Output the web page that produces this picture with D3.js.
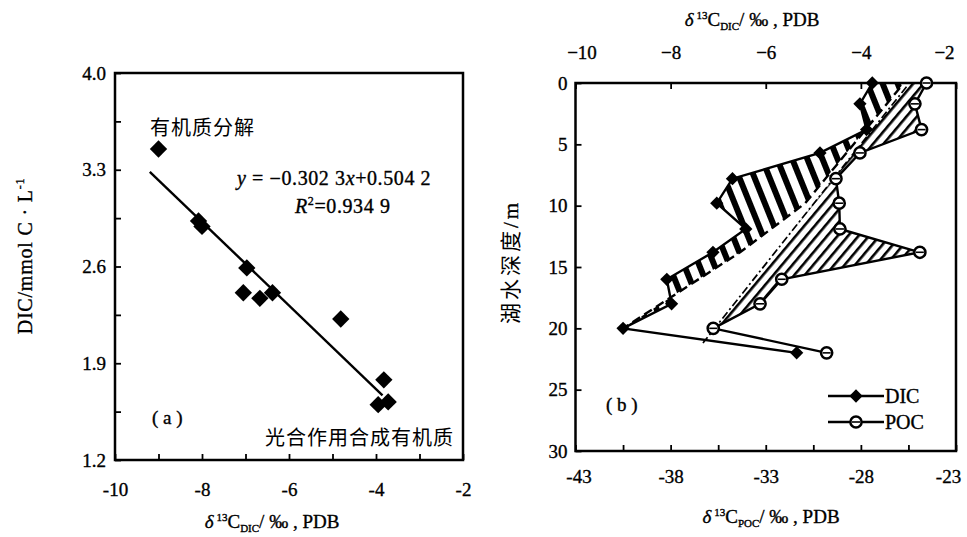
<!DOCTYPE html>
<html>
<head>
<meta charset="utf-8">
<script src="https://cdn.jsdelivr.net/npm/d3@7"></script>
<style>
  body { margin: 0; background: #fff; }
  svg { display: block; }
</style>
</head>
<body>
<svg id="chart" width="967" height="537"></svg>
<script>
// ---- (a) DIC concentration against δ13C of DIC ----
const scatterX = [-9.0, -8.08, -8.0, -6.97, -7.05, -6.67, -6.38, -4.81, -3.82, -3.95, -3.72];
const scatterY = [3.45, 2.93, 2.89, 2.59, 2.41, 2.37, 2.41, 2.22, 1.78, 1.60, 1.62];
const fitSlope = -0.3023;
const fitIntercept = 0.5042;
const fitRange = [-9.2, -3.85];
const xTicksA = d3.range(-10, -1, 1);
const yTicksA = d3.range(0, 9).map(i => +(1.2 + 0.35 * i).toFixed(2));
const yLabelsA = [1.2, 1.9, 2.6, 3.3, 4.0];

// ---- (b) depth profiles of δ13C-DIC and δ13C-POC ----
const depth = [0, 1.7, 3.8, 5.7, 7.8, 9.8, 11.9, 13.8, 16, 18, 20, 22];
const dic13 = [-3.76, -4.02, -3.88, -4.86, -6.70, -7.03, -6.42, -7.11, -8.08, -7.98, -9.0, -5.35];
const poc13 = [-24.55, -25.16, -24.81, -28.05, -29.31, -29.14, -29.1, -24.9, -32.16, -33.3, -35.76, -29.8];
// reference lines as [depth, value] vertices
const dicTrend = [[0.4, -3.18], [9.8, -5.17], [13.8, -6.54], [20, -9.0]];
const pocTrend = [[0.3, -25.6], [21.2, -36.3]];
const depthTicks = [0, 5, 10, 15, 20, 25, 30];
const topTicks = [-10, -8, -6, -4, -2];
const bottomTicks = d3.range(-43, -22.9, 2.5);

const svg = d3.select("#chart");
const serif = '"Liberation Serif","Times New Roman",serif';
const cjk = '"Noto Sans CJK SC","Noto Sans CJK JP",sans-serif';

function inkText(sel) {
  return sel.attr("fill", "#000").attr("stroke", "#000").attr("stroke-width", 0.35);
}

function styleAxis(g, size) {
  g.select(".domain").remove();
  g.selectAll(".tick line").attr("stroke", "#000").attr("stroke-width", 1.8);
  inkText(g.selectAll(".tick text"))
    .style("font-family", serif).style("font-size", (size || 19) + "px");
}

// nudge the outermost labels so they sit inside the frame's span
function nudgeEnds(g, first, last) {
  const texts = g.selectAll(".tick text").filter(function () { return this.textContent !== ""; });
  const n = texts.size();
  texts.attr("dx", (d, i) => (i === 0 ? first : i === n - 1 ? last : 0));
}

// isotope axis title: δ13C<sub>/‰,PDB
function isoTitle(g, x, y, sub) {
  const t = inkText(g.append("text")).attr("x", x).attr("y", y).attr("text-anchor", "middle")
    .style("font-family", serif).style("font-size", "19px");
  t.append("tspan").style("font-style", "italic").text("δ");
  t.append("tspan").attr("dx", 3).attr("dy", -7).style("font-size", "11px").text("13");
  t.append("tspan").attr("dy", 7).text("C");
  t.append("tspan").attr("dy", 4).style("font-size", "11px").text(sub);
  t.append("tspan").attr("dy", -4).text("/ ‰ , PDB");
}

// ================= panel (a) =================
const A = { l: 115, r: 463, t: 73, b: 460 };
const xA = d3.scaleLinear().domain([-10, -2]).range([A.l, A.r]);
const yA = d3.scaleLinear().domain([1.2, 4.0]).range([A.b, A.t]);
const gA = svg.append("g");

gA.append("g").attr("transform", `translate(0,${A.b})`)
  .call(d3.axisBottom(xA).tickValues(xTicksA).tickSize(-6).tickPadding(23)
    .tickFormat(d => (d % 2 === 0 ? String(d) : "")))
  .call(g => styleAxis(g));

gA.append("g").attr("transform", `translate(${A.l},0)`)
  .call(d3.axisLeft(yA).tickValues(yTicksA).tickSize(-6).tickPadding(9)
    .tickFormat(d => (yLabelsA.some(v => Math.abs(v - d) < 1e-6) ? d3.format(".1f")(d) : "")))
  .call(g => styleAxis(g));

gA.append("rect").attr("x", A.l).attr("y", A.t).attr("width", A.r - A.l).attr("height", A.b - A.t)
  .attr("fill", "none").attr("stroke", "#000").attr("stroke-width", 2.5);

// fitted line
gA.append("path")
  .datum(fitRange.map(x => [x, fitSlope * x + fitIntercept]))
  .attr("d", d3.line().x(d => xA(d[0])).y(d => yA(d[1])))
  .attr("fill", "none").attr("stroke", "#000").attr("stroke-width", 2.4);

// samples
const bigDiamond = d3.symbol(d3.symbolSquare, 150)();
gA.selectAll("path.pt").data(scatterX.map((x, i) => [x, scatterY[i]])).join("path")
  .attr("class", "pt").attr("d", bigDiamond)
  .attr("transform", d => `translate(${xA(d[0])},${yA(d[1])}) rotate(45)`)
  .attr("fill", "#000");

gA.append("text").attr("x", 150).attr("y", 135).attr("letter-spacing", 1)
  .style("font-family", cjk).style("font-size", "20px").text("有机质分解");
gA.append("text").attr("x", 454).attr("y", 445).attr("text-anchor", "end").attr("letter-spacing", 1)
  .style("font-family", cjk).style("font-size", "20px").text("光合作用合成有机质");
inkText(gA.append("text")).attr("x", 152).attr("y", 424)
  .style("font-family", serif).style("font-size", "19px").text("( a )");

const eq = inkText(gA.append("text")).attr("x", 237).attr("y", 185).attr("letter-spacing", 0.6)
  .style("font-family", serif).style("font-size", "20px");
eq.append("tspan").style("font-style", "italic").text("y");
eq.append("tspan").text(" = −0.302 3");
eq.append("tspan").style("font-style", "italic").text("x");
eq.append("tspan").text("+0.504 2");
const r2 = inkText(gA.append("text")).attr("x", 295).attr("y", 213).attr("letter-spacing", 0.6)
  .style("font-family", serif).style("font-size", "20px");
r2.append("tspan").style("font-style", "italic").text("R");
r2.append("tspan").attr("dy", -8).style("font-size", "12px").text("2");
r2.append("tspan").attr("dy", 8).text("=0.934 9");

// axis titles
const yt = inkText(gA.append("text")).attr("transform", "translate(32,256) rotate(-90)")
  .attr("text-anchor", "middle").attr("letter-spacing", 0.8)
  .style("font-family", serif).style("font-size", "20px");
yt.append("tspan").text("DIC/mmol C · L");
yt.append("tspan").attr("dy", -8).style("font-size", "12px").text("-1");
isoTitle(gA, 272, 528, "DIC");

// ================= panel (b) =================
const B = { l: 575.5, r: 956, t: 83, b: 451 };
const xTop = d3.scaleLinear().domain([-10, -2]).range([B.l, B.r]);
const xBot = d3.scaleLinear().domain([-43, -23]).range([B.l, B.r]);
const yB = d3.scaleLinear().domain([0, 30]).range([B.t, B.b]);
const gB = svg.append("g");

const defs = svg.append("defs");
defs.append("clipPath").attr("id", "clipB").append("rect")
  .attr("x", B.l).attr("y", B.t).attr("width", B.r - B.l).attr("height", B.b - B.t);
defs.append("pattern").attr("id", "barsHatch").attr("patternUnits", "userSpaceOnUse")
  .attr("width", 14).attr("height", 14).attr("patternTransform", "rotate(-22)")
  .append("rect").attr("x", 0).attr("y", 0).attr("width", 6).attr("height", 14).attr("fill", "#000");
defs.append("pattern").attr("id", "lineHatch").attr("patternUnits", "userSpaceOnUse")
  .attr("width", 8).attr("height", 8).attr("patternTransform", "rotate(40)")
  .append("rect").attr("x", 0).attr("y", 0).attr("width", 2.6).attr("height", 8).attr("fill", "#000");

// value of a polyline reference at a given depth
function trendAt(tr, d) {
  return d3.scaleLinear().domain(tr.map(p => p[0])).range(tr.map(p => p[1]))(d);
}

// shaded departures from the reference lines
const hatchG = gB.append("g").attr("clip-path", "url(#clipB)");
function bandRows(vals, tr) {
  const ds = Array.from(new Set(depth.concat(tr.map(p => p[0])))).filter(d => d <= 20).sort((a, b) => a - b);
  const prof = d3.scaleLinear().domain(depth).range(vals);
  return ds.map(d => ({ d, v: prof(d), t: trendAt(tr, d) }));
}
hatchG.append("path").datum(bandRows(dic13, dicTrend))
  .attr("d", d3.area().y(r => yB(r.d)).x0(r => xTop(r.t)).x1(r => xTop(r.v)))
  .attr("fill", "url(#barsHatch)");
hatchG.append("path").datum(bandRows(poc13, pocTrend))
  .attr("d", d3.area().y(r => yB(r.d)).x0(r => xBot(r.t)).x1(r => xBot(r.v)))
  .attr("fill", "url(#lineHatch)");

// reference lines
gB.append("path").datum(dicTrend)
  .attr("d", d3.line().x(p => xTop(p[1])).y(p => yB(p[0])))
  .attr("fill", "none").attr("stroke", "#000").attr("stroke-width", 2.4).attr("stroke-dasharray", "9,5");
gB.append("path").datum(pocTrend)
  .attr("d", d3.line().x(p => xBot(p[1])).y(p => yB(p[0])))
  .attr("fill", "none").attr("stroke", "#000").attr("stroke-width", 1.7).attr("stroke-dasharray", "8,3,2,3");

// axes
gB.append("g").attr("transform", `translate(0,${B.b})`)
  .call(d3.axisBottom(xBot).tickValues(bottomTicks).tickSize(-6).tickPadding(19)
    .tickFormat(d => ((d + 43) % 5 === 0 ? String(d) : "")))
  .call(g => styleAxis(g))
  .call(g => nudgeEnds(g, 3, -8));
gB.append("g").attr("transform", `translate(0,${B.t})`)
  .call(d3.axisTop(xTop).tickValues(topTicks).tickSize(-6).tickPadding(24))
  .call(g => styleAxis(g))
  .call(g => nudgeEnds(g, 6, -12));
gB.append("g").attr("transform", `translate(${B.l},0)`)
  .call(d3.axisLeft(yB).tickValues(depthTicks).tickSize(-6).tickPadding(8))
  .call(g => styleAxis(g));
gB.append("rect").attr("x", B.l).attr("y", B.t).attr("width", B.r - B.l).attr("height", B.b - B.t)
  .attr("fill", "none").attr("stroke", "#000").attr("stroke-width", 2.5);

// profiles
const dicPts = depth.map((d, i) => [xTop(dic13[i]), yB(d)]);
const pocPts = depth.map((d, i) => [xBot(poc13[i]), yB(d)]);
gB.append("path").datum(dicPts).attr("d", d3.line())
  .attr("fill", "none").attr("stroke", "#000").attr("stroke-width", 2.4);
gB.append("path").datum(pocPts).attr("d", d3.line())
  .attr("fill", "none").attr("stroke", "#000").attr("stroke-width", 2.4);

const smallDiamond = d3.symbol(d3.symbolSquare, 88)();
function diamondAt(g, x, y) {
  g.append("path").attr("d", smallDiamond)
    .attr("transform", `translate(${x},${y}) rotate(45)`).attr("fill", "#000");
}
function ringAt(g, x, y) {
  g.append("circle").attr("cx", x).attr("cy", y).attr("r", 5.6)
    .attr("fill", "#fff").attr("stroke", "#000").attr("stroke-width", 2.5);
  g.append("line").attr("x1", x - 4).attr("x2", x + 4).attr("y1", y).attr("y2", y)
    .attr("stroke", "#000").attr("stroke-width", 1.6);
}
dicPts.forEach(p => diamondAt(gB, p[0], p[1]));
pocPts.forEach(p => ringAt(gB, p[0], p[1]));

// legend
const lg = gB.append("g");
[["DIC", 396, diamondAt], ["POC", 422, ringAt]].forEach(([name, y, mark]) => {
  lg.append("line").attr("x1", 828).attr("x2", 884).attr("y1", y).attr("y2", y)
    .attr("stroke", "#000").attr("stroke-width", 2.4);
  mark(lg, 856, y);
  inkText(lg.append("text")).attr("x", 885).attr("y", y + 7)
    .style("font-family", serif).style("font-size", "20px").text(name);
});

inkText(gB.append("text")).attr("x", 606).attr("y", 411)
  .style("font-family", serif).style("font-size", "19px").text("( b )");

// axis titles
isoTitle(gB, 752, 26, "DIC");
isoTitle(gB, 771, 523, "POC");
const dt = gB.append("text").attr("transform", "translate(518,262) rotate(-90)")
  .attr("text-anchor", "middle").attr("letter-spacing", 3).style("font-size", "21px");
dt.append("tspan").style("font-family", cjk).text("湖水深度");
inkText(dt.append("tspan")).style("font-family", serif).text("/m");
</script>
</body>
</html>
